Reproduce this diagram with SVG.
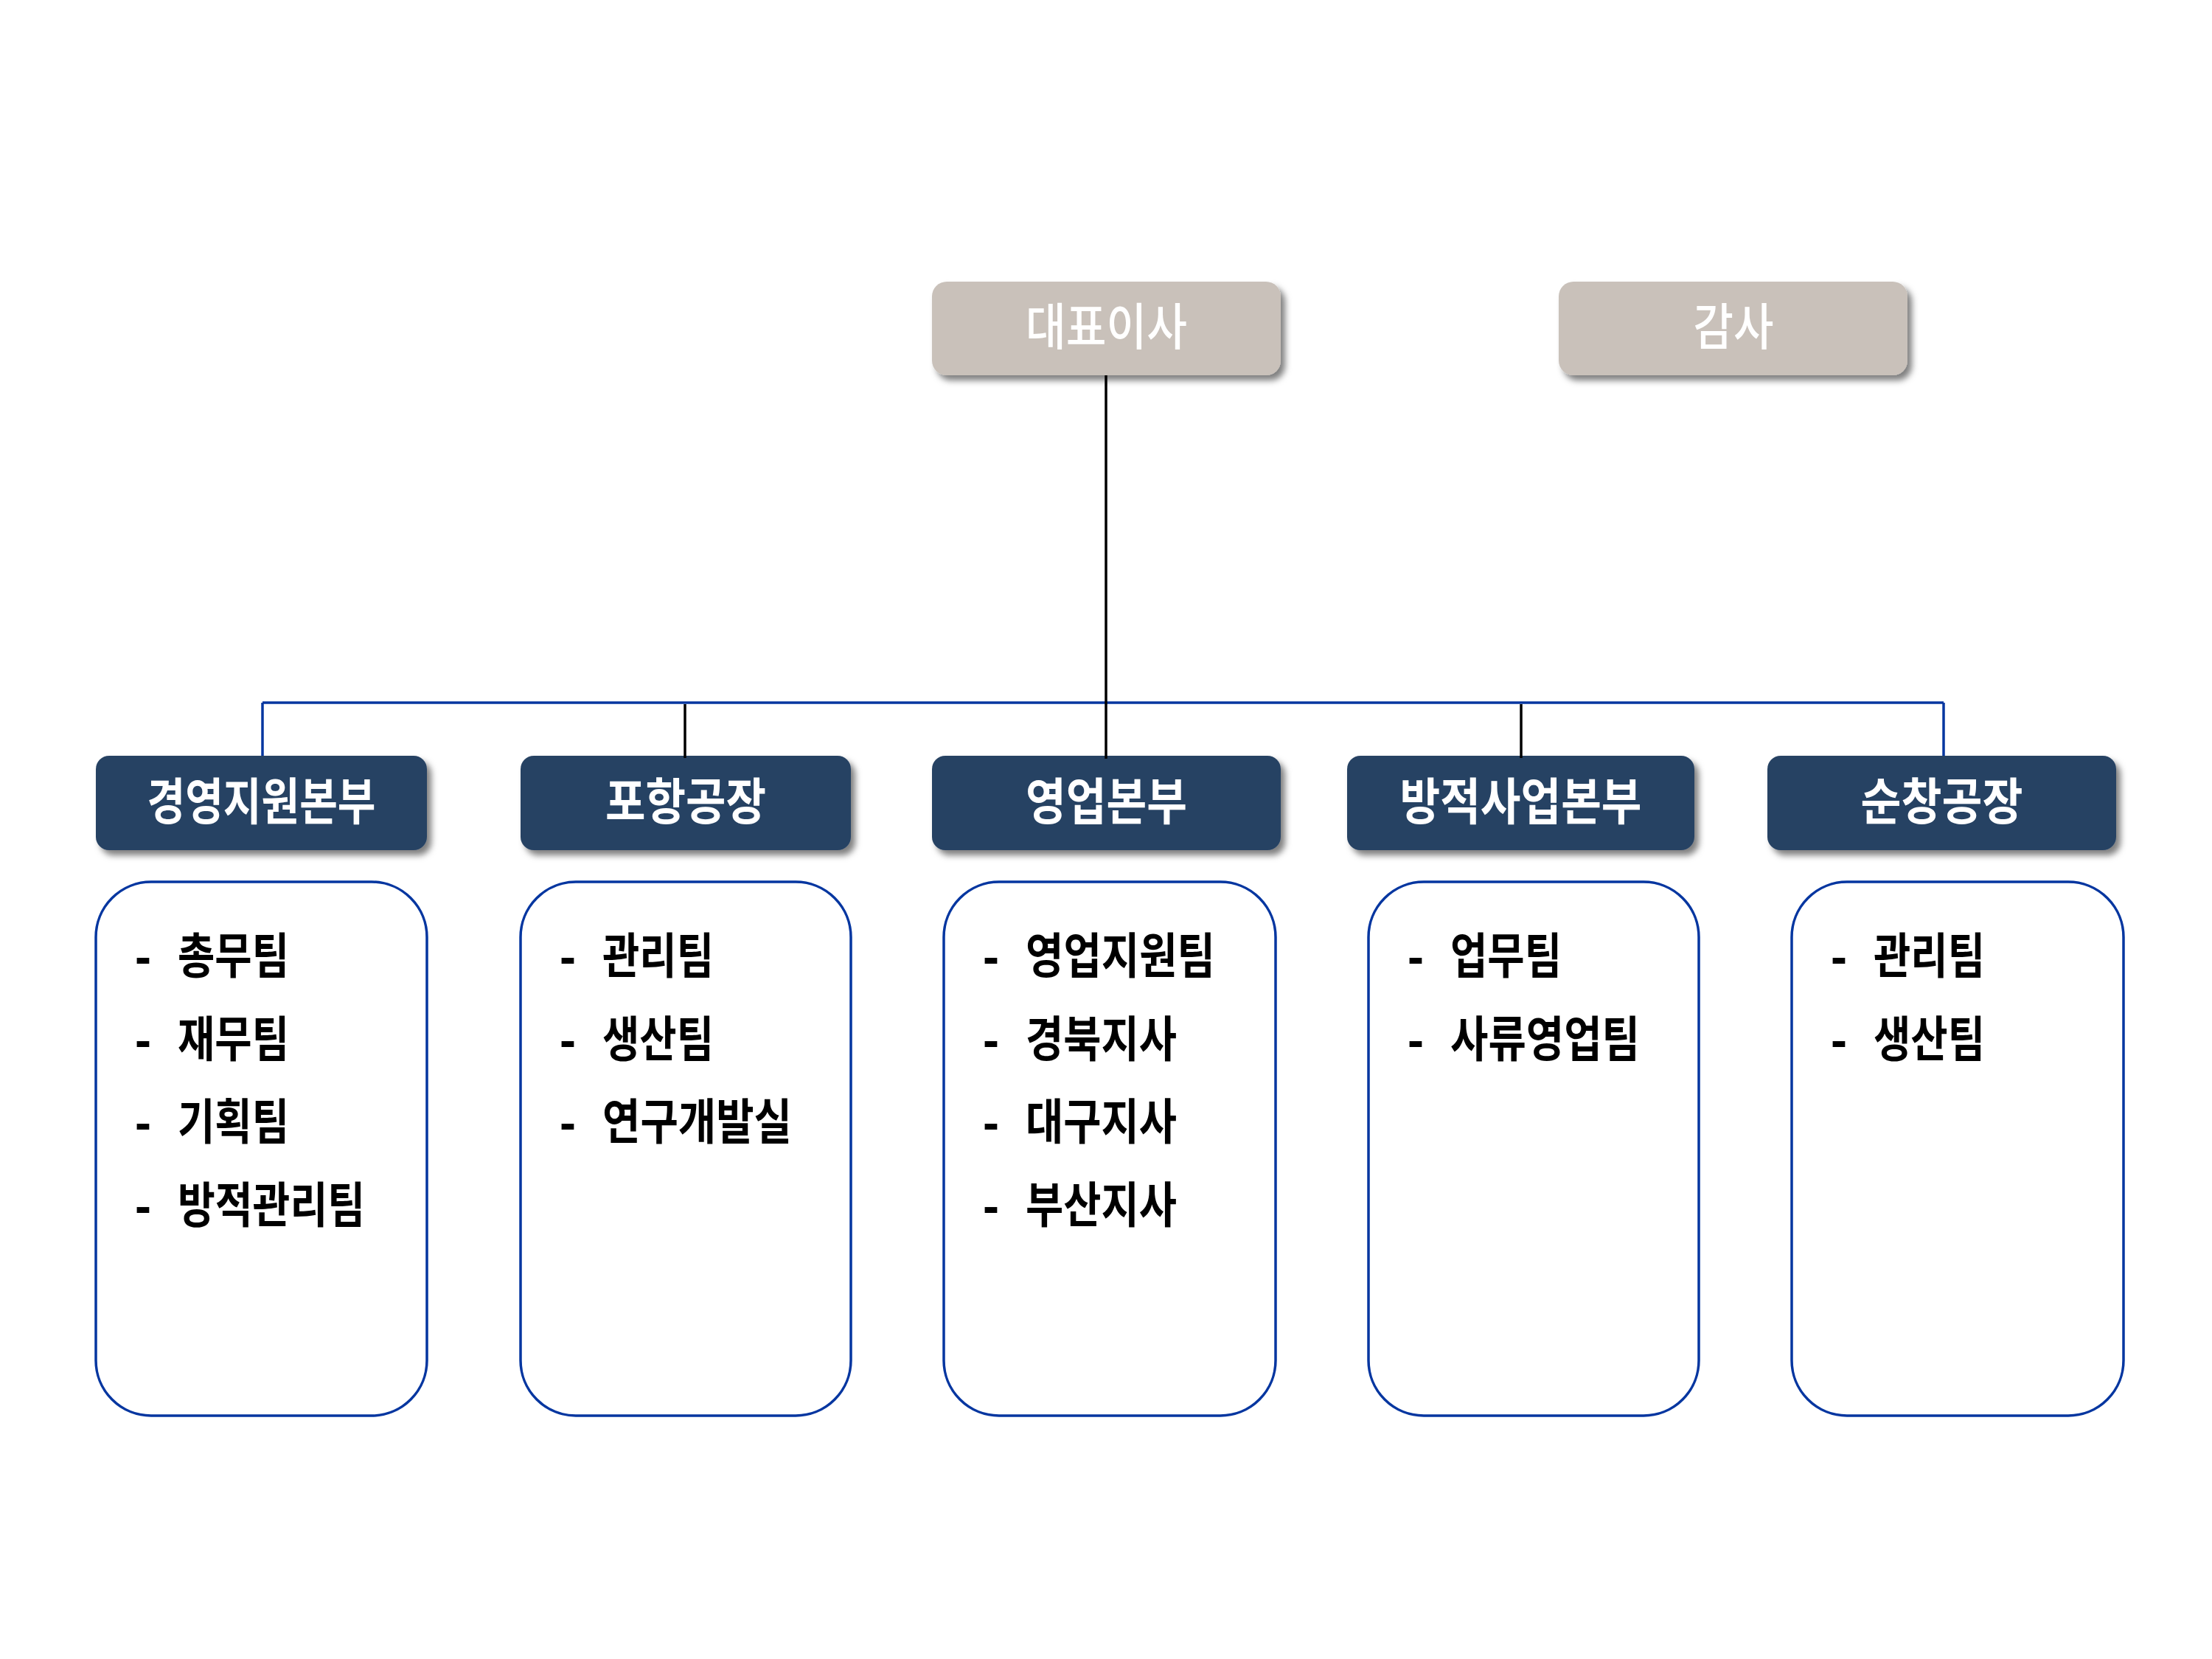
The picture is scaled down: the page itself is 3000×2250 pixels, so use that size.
<svg xmlns="http://www.w3.org/2000/svg" width="3000" height="2250" viewBox="0 0 3000 2250">
<defs>
<filter id="sh" x="-10%" y="-20%" width="130%" height="150%">
<feDropShadow dx="6" dy="7" stdDeviation="4" flood-color="#000" flood-opacity="0.5"/>
</filter>
<style>
.top{fill:#C9C1BA;filter:url(#sh)}
.hd{fill:#284263;filter:url(#sh)}
.cb{fill:#fff;stroke:#0536A0;stroke-width:3.5}
.tt{font-family:"Noto Sans CJK KR",sans-serif;font-size:68px;fill:#fff;font-weight:500;text-anchor:middle}
.ht{font-family:"Noto Sans CJK KR",sans-serif;font-size:68px;fill:#fff;font-weight:700;text-anchor:middle}
.it{font-family:"Noto Sans CJK KR",sans-serif;font-size:66px;fill:#000;font-weight:700}
.ds{font-family:"Liberation Sans",sans-serif;font-size:66px;fill:#000;font-weight:700}
.bl{stroke:#0536A0;stroke-width:3.5;fill:none}
.bk{stroke:#000;stroke-width:3.5;fill:none}
</style>
</defs>
<rect width="3000" height="2250" fill="#fff"/>

<g id="connectors">
<line class="bl" x1="356" y1="953" x2="2636" y2="953"/>
<line class="bl" x1="356" y1="953" x2="356" y2="1026"/>
<line class="bl" x1="2636" y1="953" x2="2636" y2="1026"/>
</g>

<g id="ceo">
<rect class="top" x="1264" y="382" width="473" height="127" rx="20"/>
<text class="tt" x="1500.5" y="468" textLength="219" lengthAdjust="spacingAndGlyphs">대표이사</text>
</g>
<g id="auditor">
<rect class="top" x="2114" y="382" width="473" height="127" rx="20"/>
<text class="tt" x="2351" y="468" textLength="109" lengthAdjust="spacingAndGlyphs">감사</text>
</g>

<g id="div1">
<rect class="hd" x="130" y="1025" width="449" height="128" rx="18"/>
<text class="ht" x="354.5" y="1112" textLength="310" lengthAdjust="spacingAndGlyphs">경영지원본부</text>
</g>
<g id="div2">
<rect class="hd" x="706" y="1025" width="448" height="128" rx="18"/>
<text class="ht" x="930" y="1112" textLength="218" lengthAdjust="spacingAndGlyphs">포항공장</text>
</g>
<g id="div3">
<rect class="hd" x="1264" y="1025" width="473" height="128" rx="18"/>
<text class="ht" x="1500.5" y="1112" textLength="219" lengthAdjust="spacingAndGlyphs">영업본부</text>
</g>
<g id="div4">
<rect class="hd" x="1827" y="1025" width="471" height="128" rx="18"/>
<text class="ht" x="2062.5" y="1112" textLength="328" lengthAdjust="spacingAndGlyphs">방적사업본부</text>
</g>
<g id="div5">
<rect class="hd" x="2397" y="1025" width="473" height="128" rx="18"/>
<text class="ht" x="2633.5" y="1112" textLength="220" lengthAdjust="spacingAndGlyphs">순창공장</text>
</g>

<g id="connectors-black">
<line class="bk" x1="1500" y1="509" x2="1500" y2="1029"/>
<line class="bk" x1="929" y1="955" x2="929" y2="1028"/>
<line class="bk" x1="2063" y1="955" x2="2063" y2="1028"/>
</g>

<g id="list1">
<rect class="cb" x="130" y="1196" width="449" height="724" rx="75"/>
<text class="ds" x="183" y="1320">-</text><text class="it" x="241" y="1320" textLength="151" lengthAdjust="spacingAndGlyphs">총무팀</text>
<text class="ds" x="183" y="1432.5">-</text><text class="it" x="241" y="1432.5" textLength="151" lengthAdjust="spacingAndGlyphs">재무팀</text>
<text class="ds" x="183" y="1545">-</text><text class="it" x="241" y="1545" textLength="151" lengthAdjust="spacingAndGlyphs">기획팀</text>
<text class="ds" x="183" y="1657.5">-</text><text class="it" x="241" y="1657.5" textLength="254" lengthAdjust="spacingAndGlyphs">방적관리팀</text>
</g>
<g id="list2">
<rect class="cb" x="706" y="1196" width="448" height="724" rx="75"/>
<text class="ds" x="759" y="1320">-</text><text class="it" x="817" y="1320" textLength="151" lengthAdjust="spacingAndGlyphs">관리팀</text>
<text class="ds" x="759" y="1432.5">-</text><text class="it" x="817" y="1432.5" textLength="151" lengthAdjust="spacingAndGlyphs">생산팀</text>
<text class="ds" x="759" y="1545">-</text><text class="it" x="817" y="1545" textLength="257" lengthAdjust="spacingAndGlyphs">연구개발실</text>
</g>
<g id="list3">
<rect class="cb" x="1280" y="1196" width="450" height="724" rx="75"/>
<text class="ds" x="1333" y="1320">-</text><text class="it" x="1391" y="1320" textLength="257" lengthAdjust="spacingAndGlyphs">영업지원팀</text>
<text class="ds" x="1333" y="1432.5">-</text><text class="it" x="1391" y="1432.5" textLength="205" lengthAdjust="spacingAndGlyphs">경북지사</text>
<text class="ds" x="1333" y="1545">-</text><text class="it" x="1391" y="1545" textLength="205" lengthAdjust="spacingAndGlyphs">대구지사</text>
<text class="ds" x="1333" y="1657.5">-</text><text class="it" x="1391" y="1657.5" textLength="205" lengthAdjust="spacingAndGlyphs">부산지사</text>
</g>
<g id="list4">
<rect class="cb" x="1856" y="1196" width="448" height="724" rx="75"/>
<text class="ds" x="1909" y="1320">-</text><text class="it" x="1967" y="1320" textLength="151" lengthAdjust="spacingAndGlyphs">업무팀</text>
<text class="ds" x="1909" y="1432.5">-</text><text class="it" x="1967" y="1432.5" textLength="257" lengthAdjust="spacingAndGlyphs">사류영업팀</text>
</g>
<g id="list5">
<rect class="cb" x="2430" y="1196" width="450" height="724" rx="75"/>
<text class="ds" x="2483" y="1320">-</text><text class="it" x="2541" y="1320" textLength="151" lengthAdjust="spacingAndGlyphs">관리팀</text>
<text class="ds" x="2483" y="1432.5">-</text><text class="it" x="2541" y="1432.5" textLength="151" lengthAdjust="spacingAndGlyphs">생산팀</text>
</g>
</svg>
